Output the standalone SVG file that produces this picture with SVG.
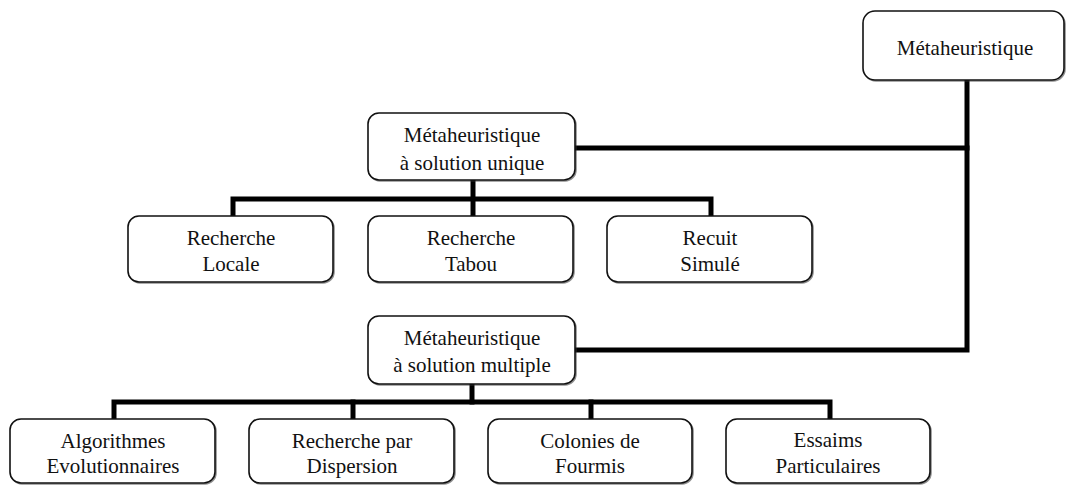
<svg xmlns="http://www.w3.org/2000/svg" width="1066" height="485" viewBox="0 0 1066 485">
  <style>
    .box { fill: #ffffff; stroke: #111111; stroke-width: 1.6; }
    .shadow { fill: none; stroke: #333333; stroke-width: 1.6; opacity: 0.55; }
    .label { font-family: "Liberation Serif", "Times New Roman", serif; font-size: 21px; fill: #111111; text-anchor: middle; }
    .wire { fill: none; stroke: #000000; stroke-width: 5; stroke-linecap: square; stroke-linejoin: miter; }
  </style>
  <rect width="1066" height="485" fill="#ffffff"/>

  <!-- connectors -->
  <g id="connectors">
    <!-- main trunk from the root node -->
    <path class="wire" d="M967,81 V350 H577"/>
    <path class="wire" d="M577,148 H967"/>
    <!-- single-solution family -->
    <path class="wire" d="M473,181 V216"/>
    <path class="wire" d="M233,216 V199 H711 V216"/>
    <!-- multi-solution family -->
    <path class="wire" d="M472,386 V402"/>
    <path class="wire" d="M114,419 V402 H830 V419"/>
    <path class="wire" d="M353,402 V419"/>
    <path class="wire" d="M591,402 V419"/>
  </g>

  <!-- nodes -->
  <g id="root">
    <rect class="shadow" x="864" y="12" width="201" height="69" rx="12"/>
    <rect class="box" x="863" y="11" width="201" height="69" rx="12"/>
    <text class="label" x="965" y="55">Métaheuristique</text>
  </g>

  <g id="unique">
    <rect class="shadow" x="369" y="114" width="207" height="67" rx="11"/>
    <rect class="box" x="368" y="113" width="207" height="67" rx="11"/>
    <text class="label" x="472" y="142">Métaheuristique</text>
    <text class="label" x="472" y="170">à solution unique</text>
  </g>

  <g id="recherche-locale">
    <rect class="shadow" x="129" y="217" width="205" height="66" rx="11"/>
    <rect class="box" x="128" y="216" width="205" height="66" rx="11"/>
    <text class="label" x="231" y="245">Recherche</text>
    <text class="label" x="231" y="271">Locale</text>
  </g>

  <g id="recherche-tabou">
    <rect class="shadow" x="369" y="217" width="205" height="66" rx="11"/>
    <rect class="box" x="368" y="216" width="205" height="66" rx="11"/>
    <text class="label" x="471" y="245">Recherche</text>
    <text class="label" x="471" y="271">Tabou</text>
  </g>

  <g id="recuit-simule">
    <rect class="shadow" x="608" y="217" width="205" height="66" rx="11"/>
    <rect class="box" x="607" y="216" width="205" height="66" rx="11"/>
    <text class="label" x="710" y="245">Recuit</text>
    <text class="label" x="710" y="271">Simulé</text>
  </g>

  <g id="multiple">
    <rect class="shadow" x="369" y="317" width="207" height="68" rx="11"/>
    <rect class="box" x="368" y="316" width="207" height="68" rx="11"/>
    <text class="label" x="472" y="345">Métaheuristique</text>
    <text class="label" x="472" y="372">à solution multiple</text>
  </g>

  <g id="algorithmes-evolutionnaires">
    <rect class="shadow" x="11" y="420" width="205" height="64" rx="11"/>
    <rect class="box" x="10" y="419" width="205" height="64" rx="11"/>
    <text class="label" x="113" y="448">Algorithmes</text>
    <text class="label" x="113" y="473">Evolutionnaires</text>
  </g>

  <g id="recherche-dispersion">
    <rect class="shadow" x="250" y="420" width="205" height="64" rx="11"/>
    <rect class="box" x="249" y="419" width="205" height="64" rx="11"/>
    <text class="label" x="352" y="448">Recherche par</text>
    <text class="label" x="352" y="473">Dispersion</text>
  </g>

  <g id="colonies-fourmis">
    <rect class="shadow" x="489" y="420" width="204" height="64" rx="11"/>
    <rect class="box" x="488" y="419" width="204" height="64" rx="11"/>
    <text class="label" x="590" y="448">Colonies de</text>
    <text class="label" x="590" y="473">Fourmis</text>
  </g>

  <g id="essaims-particulaires">
    <rect class="shadow" x="727" y="420" width="204" height="64" rx="11"/>
    <rect class="box" x="726" y="419" width="204" height="64" rx="11"/>
    <text class="label" x="828" y="447">Essaims</text>
    <text class="label" x="828" y="473">Particulaires</text>
  </g>
</svg>
